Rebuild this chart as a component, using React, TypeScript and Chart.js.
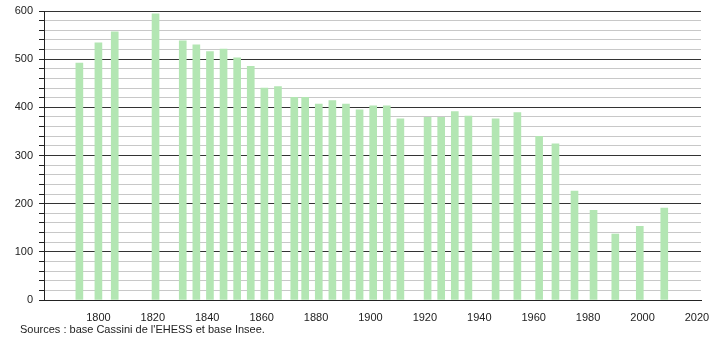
import React, { useEffect, useRef } from "react";
import { Chart, registerables } from "chart.js";

Chart.register(...registerables);

const years: number[] = [
  1793, 1800, 1806, 1821, 1831, 1836, 1841, 1846, 1851, 1856, 1861, 1866, 1872,
  1876, 1881, 1886, 1891, 1896, 1901, 1906, 1911, 1921, 1926, 1931, 1936, 1946,
  1954, 1962, 1968, 1975, 1982, 1990, 1999, 2008,
];
const population: number[] = [
  492, 534, 557, 594, 538, 530, 516, 521, 503, 485, 440, 443, 421, 421, 407, 414,
  407, 395, 403, 403, 376, 379, 379, 391, 382, 376, 389, 340, 324, 226, 186, 137,
  153, 191,
];
const xTickLabels: number[] = [1800, 1820, 1840, 1860, 1880, 1900, 1920, 1940, 1960, 1980, 2000, 2020];
const sourceText = "Sources : base Cassini de l'EHESS et base Insee.";

const FONT = "'Liberation Sans', Arial, sans-serif";

export default function App() {
  const ref = useRef<HTMLCanvasElement | null>(null);

  useEffect(() => {
    document.body.style.margin = "0";
    const canvas = ref.current;
    if (!canvas) return;

    const footer = {
      id: "footer",
      afterDraw(chart: any) {
        const ctx = chart.ctx;
        ctx.save();
        ctx.font = `11px ${FONT}`;
        ctx.fillStyle = "#222";
        ctx.textBaseline = "middle";
        ctx.textAlign = "left";
        ctx.fillText(sourceText, 20, 330);
        ctx.restore();
      },
    };

    const chart = new Chart(canvas, {
      type: "bar",
      data: {
        datasets: [
          {
            data: years.map((y, i) => ({ x: y, y: population[i] })),
            backgroundColor: "#b3e6b3",
            borderWidth: 0,
            barThickness: 7,
          } as any,
        ],
      },
      options: {
        responsive: false,
        animation: false,
        devicePixelRatio: 1,
        layout: { padding: { top: 11, right: 9, left: 0, bottom: 0 } },
        plugins: {
          legend: { display: false },
          tooltip: { enabled: false },
        },
        scales: {
          x: {
            type: "linear",
            min: 1780,
            max: 2021.5,
            offset: false,
            grid: { display: false, drawTicks: false },
            border: { display: true, color: "#222", width: 1 },
            afterBuildTicks: (scale: any) => {
              scale.ticks = xTickLabels.map((v) => ({ value: v }));
            },
            afterFit: (scale: any) => {
              scale.height = 40;
              scale.paddingLeft = 0;
              scale.paddingRight = 0;
            },
            ticks: {
              autoSkip: false,
              maxRotation: 0,
              padding: 11,
              color: "#222",
              font: { family: FONT, size: 11 },
              callback: (v: any) => String(v),
            },
          },
          y: {
            min: 0,
            max: 600,
            grid: {
              color: (ctx: any) =>
                ctx.tick && ctx.tick.value % 100 === 0 ? "#333" : "#c8c8c8",
              tickColor: "#222",
              tickLength: 5,
              lineWidth: 1,
            },
            border: { display: true, color: "#222", width: 1 },
            afterFit: (scale: any) => {
              scale.width = 44;
              scale.paddingTop = 0;
              scale.paddingBottom = 0;
            },
            ticks: {
              stepSize: 20,
              autoSkip: false,
              padding: 6,
              color: "#222",
              font: { family: FONT, size: 11 },
              callback: (v: any) => (Number(v) % 100 === 0 ? String(v) : ""),
            },
          },
        },
      },
      plugins: [footer],
    });

    return () => chart.destroy();
  }, []);

  return (
    <div style={{ width: 710, height: 340 }}>
      <canvas ref={ref} width={710} height={340} style={{ width: 710, height: 340, display: "block" }} />
    </div>
  );
}
